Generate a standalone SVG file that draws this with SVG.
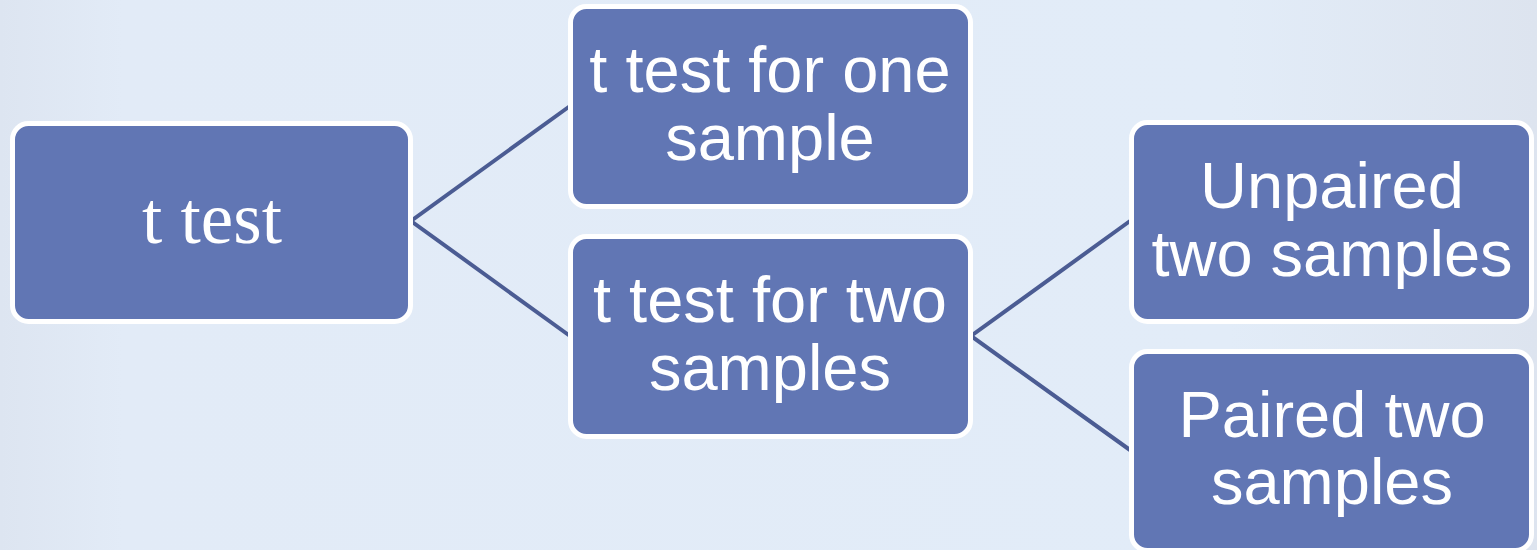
<svg xmlns="http://www.w3.org/2000/svg" width="1537" height="550" viewBox="0 0 1537 550">
  <defs>
    <linearGradient id="bg" x1="0" y1="0" x2="1" y2="0">
      <stop offset="0" stop-color="#dde5f1"/>
      <stop offset="0.08" stop-color="#e2ebf7"/>
      <stop offset="0.8" stop-color="#e2ecf8"/>
      <stop offset="1" stop-color="#dde4ef"/>
    </linearGradient>
    <style>
      .box { fill: #6176b4; stroke: #ffffff; stroke-width: 5; }
      .lbl { fill: #ffffff; font-family: "Liberation Sans", Arial, sans-serif; font-size: 65px; text-anchor: middle; }
      .serif { font-family: "Liberation Serif", "Times New Roman", serif; font-size: 73px; }
      .conn { stroke: #4b5c93; stroke-width: 4; fill: none; }
    </style>
  </defs>
  <rect x="0" y="0" width="1537" height="550" fill="url(#bg)"/>

  <g id="connectors">
    <path class="conn" d="M570,106 L411,221 L570,336"/>
    <path class="conn" d="M1130,221 L971,336 L1130,450"/>
  </g>

  <g id="node-root">
    <rect class="box" x="12.5" y="123.5" width="398" height="198" rx="16"/>
    <text class="lbl serif" x="212" y="243">t test</text>
  </g>

  <g id="node-one-sample">
    <rect class="box" x="570.5" y="6.5" width="400" height="200" rx="16"/>
    <text class="lbl" x="770" y="92">t test for one</text>
    <text class="lbl" x="770" y="160">sample</text>
  </g>

  <g id="node-two-samples">
    <rect class="box" x="570.5" y="236.5" width="400" height="200" rx="16"/>
    <text class="lbl" x="770" y="322">t test for two</text>
    <text class="lbl" x="770" y="390">samples</text>
  </g>

  <g id="node-unpaired">
    <rect class="box" x="1131.5" y="122.5" width="400" height="199" rx="16"/>
    <text class="lbl" x="1332" y="208">Unpaired</text>
    <text class="lbl" x="1332" y="276">two samples</text>
  </g>

  <g id="node-paired">
    <rect class="box" x="1131.5" y="351.5" width="400" height="199" rx="16"/>
    <text class="lbl" x="1332" y="437">Paired two</text>
    <text class="lbl" x="1332" y="504">samples</text>
  </g>
</svg>
